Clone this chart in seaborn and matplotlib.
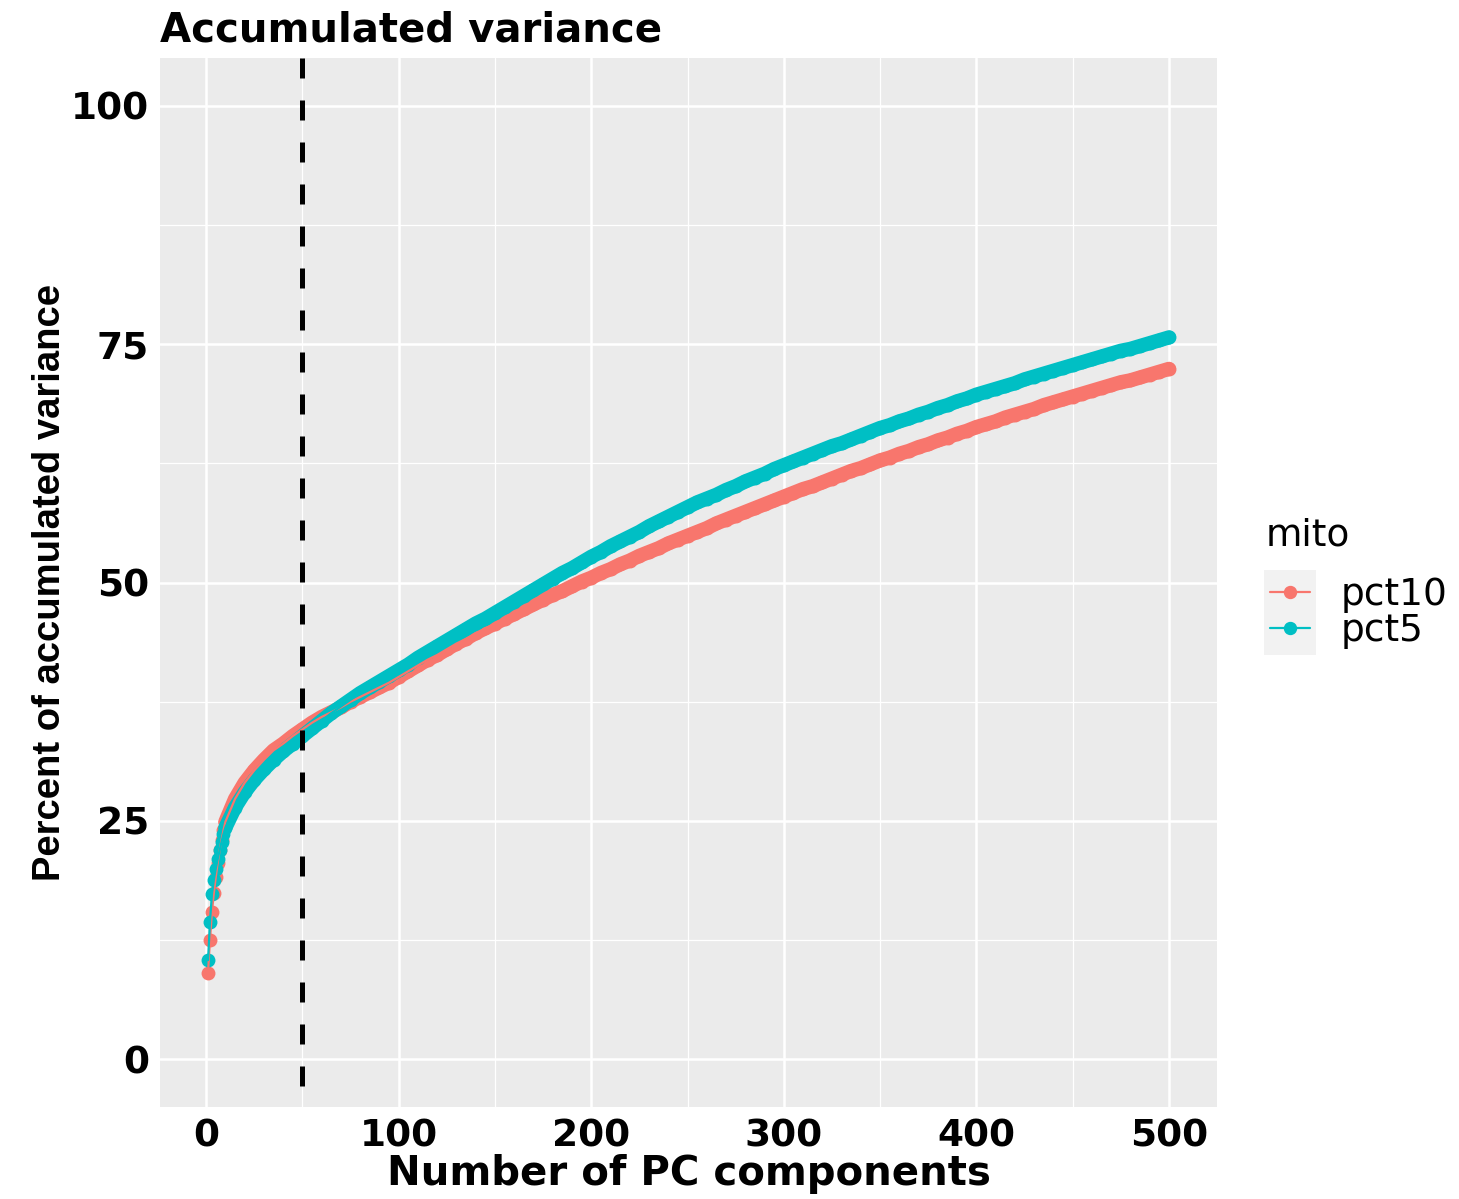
import matplotlib
matplotlib.use("Agg")
import numpy as np
import pandas as pd
import matplotlib.pyplot as plt
import seaborn as sns
from matplotlib.lines import Line2D
from matplotlib.patches import Rectangle

# PC index (dense start, then every 5 PCs)
pcs = list(range(1, 11)) + list(range(15, 501, 5))

# accumulated variance (%)
pct10 = [9.1, 12.5, 15.4, 17.4, 19.1, 20.6, 21.9, 23.0, 24.0, 24.9,
         27.3, 29.0, 30.3, 31.4, 32.4, 33.1, 33.9, 34.6,
         35.3, 35.9, 36.4, 36.9, 37.5, 38.0, 38.5, 39.0, 39.5, 40.1,
         40.7, 41.3, 41.9, 42.4, 43.0, 43.6, 44.1, 44.7, 45.2, 45.7,
         46.2, 46.7, 47.2, 47.7, 48.2, 48.7, 49.1, 49.6, 50.1, 50.5,
         51.0, 51.4, 51.9, 52.3, 52.8, 53.2, 53.6, 54.1, 54.5, 54.9,
         55.3, 55.7, 56.2, 56.6, 57.0, 57.4, 57.8, 58.2, 58.6, 59.0,
         59.4, 59.8, 60.1, 60.5, 60.9, 61.3, 61.7, 62.0, 62.4, 62.8,
         63.1, 63.5, 63.8, 64.2, 64.5, 64.9, 65.2, 65.6, 65.9, 66.3,
         66.6, 66.9, 67.3, 67.6, 67.9, 68.2, 68.6, 68.9, 69.2, 69.5,
         69.8, 70.1, 70.4, 70.7, 71.0, 71.2, 71.5, 71.8, 72.1, 72.4]

pct5 = [10.4, 14.4, 17.3, 18.8, 20.0, 21.0, 21.9, 22.8, 23.6, 24.3,
        26.4, 28.0, 29.3, 30.4, 31.4, 32.3, 33.1, 33.9,
        34.7, 35.5, 36.3, 37.0, 37.7, 38.4, 39.0, 39.6, 40.2, 40.8,
        41.4, 42.1, 42.7, 43.3, 43.9, 44.5, 45.1, 45.7, 46.2, 46.8,
        47.4, 48.0, 48.6, 49.2, 49.8, 50.4, 51.0, 51.5, 52.1, 52.7,
        53.2, 53.8, 54.3, 54.8, 55.3, 55.9, 56.4, 56.9, 57.4, 57.9,
        58.4, 58.8, 59.2, 59.7, 60.1, 60.6, 61.0, 61.4, 61.9, 62.3,
        62.7, 63.1, 63.5, 63.9, 64.3, 64.6, 65.0, 65.4, 65.8, 66.2,
        66.5, 66.9, 67.2, 67.6, 67.9, 68.3, 68.6, 69.0, 69.3, 69.7,
        70.0, 70.3, 70.6, 70.9, 71.3, 71.6, 71.9, 72.2, 72.5, 72.8,
        73.1, 73.4, 73.7, 74.0, 74.3, 74.5, 74.8, 75.1, 75.4, 75.7]

groups = ["pct10", "pct5"]
colors = {"pct10": "#F8766D", "pct5": "#00BFC4"}
cutoff_pc = 50

df = pd.concat([
    pd.DataFrame({"pc": pcs, "var": pct10, "mito": "pct10"}),
    pd.DataFrame({"pc": pcs, "var": pct5, "mito": "pct5"}),
], ignore_index=True)

sns.set_style("darkgrid")
plt.rcParams["font.family"] = ["DejaVu Sans"]
plt.rcParams["text.color"] = "black"
plt.rcParams["axes.labelcolor"] = "black"

fig = plt.figure(figsize=(14.59, 11.99), dpi=100)
ax = fig.add_axes([160 / 1459, 1 - 1107 / 1199, (1217 - 160) / 1459, (1107 - 58) / 1199])
ax.set_facecolor("#EBEBEB")

# point layer (dense band of points -> thick line beyond the first PCs)
for i, g in enumerate(groups):
    sub = df[df.mito == g]
    band = sub[sub.pc >= 10]
    sns.lineplot(data=band, x="pc", y="var", color=colors[g], linewidth=10.3,
                 solid_capstyle="round", solid_joinstyle="round", ax=ax,
                 legend=False, zorder=3 + i * 2)
    sns.scatterplot(data=sub, x="pc", y="var", color=colors[g], s=100,
                    linewidth=0, ax=ax, legend=False, zorder=3 + i * 2)
# line layer
for i, g in enumerate(groups):
    sub = df[df.mito == g]
    sns.lineplot(data=sub, x="pc", y="var", color=colors[g], linewidth=1.6,
                 ax=ax, legend=False, zorder=8 + i)

vl = ax.axvline(cutoff_pc, color="black", linewidth=3.6, linestyle=(0, (4.0, 4.4)), zorder=10)
vl.set_ydata([1, 0])  # start the dash pattern at the top of the panel

ax.set_xlim(1 - 24.95, 500 + 24.95)
ax.set_ylim(-5, 105)
ax.set_xticks([0, 100, 200, 300, 400, 500])
ax.set_xticks([50, 150, 250, 350, 450], minor=True)
ax.set_yticks([0, 25, 50, 75, 100])
ax.set_yticks([12.5, 37.5, 62.5, 87.5], minor=True)
ax.grid(which="major", color="white", linewidth=1.8)
ax.grid(which="minor", color="white", linewidth=0.9)
ax.set_axisbelow(True)
for s in ax.spines.values():
    s.set_visible(False)

ax.tick_params(which="major", length=5, width=1.3, color="#333333", pad=3,
               labelsize=27, labelcolor="black")
ax.tick_params(which="minor", length=0)
for lab in ax.get_xticklabels() + ax.get_yticklabels():
    lab.set_fontweight("bold")

ax.set_xlabel("Number of PC components", fontsize=29, fontweight="bold", labelpad=0)
ax.set_ylabel("Percent of accumulated variance", fontsize=27.5, fontweight="bold",
              family=["Liberation Sans", "DejaVu Sans"], labelpad=2)
ax.set_title("Accumulated variance", fontsize=29, fontweight="bold", loc="left", pad=12)

# legend
fig.patches.append(Rectangle((1264 / 1459, 1 - 655 / 1199), 52 / 1459, 85 / 1199,
                             transform=fig.transFigure, facecolor="#F2F2F2",
                             edgecolor="none", zorder=0))
fig.text(1266 / 1459, 1 - 535 / 1199, "mito", fontsize=27, ha="left", va="center")
handles = [Line2D([], [], color=colors[g], linewidth=1.6, marker="o", markersize=8.6)
           for g in groups]
leg = fig.legend(handles, groups, loc="center left",
                 bbox_to_anchor=(1270 / 1459, 1 - 613 / 1199), frameon=False,
                 fontsize=27, handlelength=1.07, handletextpad=0.8,
                 labelspacing=0.0, borderaxespad=0, borderpad=0)

fig.savefig("out.png", dpi=100)
